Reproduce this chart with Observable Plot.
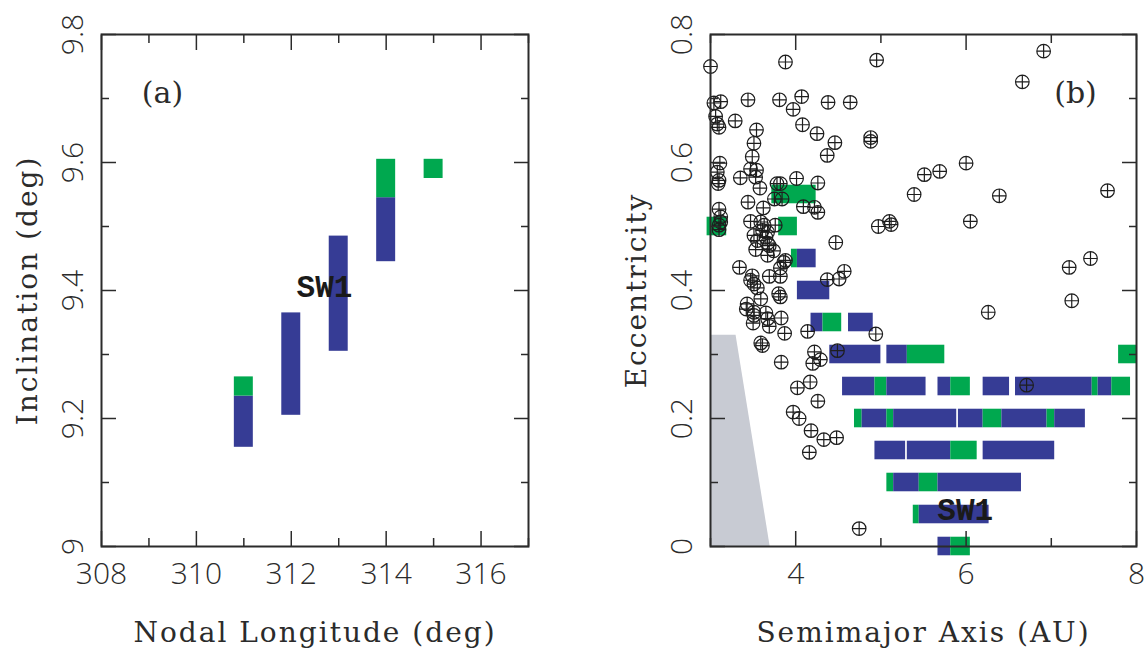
<!DOCTYPE html>
<html><head><meta charset="utf-8">
<script src="https://cdn.jsdelivr.net/npm/d3@7"></script>
<script src="https://cdn.jsdelivr.net/npm/@observablehq/plot@0.6"></script>
<style>
html,body{margin:0;padding:0;background:#fff;}
#wrap{display:flex;width:1146px;height:649px;overflow:hidden;}
#wrap svg{overflow:visible;}
</style></head><body><div id="wrap"></div>
<script>
// ---------- Panel (a): nodal longitude vs inclination ----------
const incLon  = [311, 311, 312, 313, 314, 314, 315];
const incLow  = [9.155, 9.235, 9.205, 9.305, 9.445, 9.545, 9.575];
const incHigh = [9.235, 9.265, 9.365, 9.485, 9.545, 9.605, 9.605];
const incKind = ["A", "B", "A", "A", "A", "B", "B"];
const lonTicksMajor = [308, 310, 312, 314, 316];
const lonTicksMinor = [309, 311, 313, 315, 317];
const incTicksMajor = [9, 9.2, 9.4, 9.6, 9.8];
const incTicksMinor = [9.1, 9.3, 9.5, 9.7];
const labelA = [{x: 312.7, y: 9.405, t: "SW1"}];

// ---------- Panel (b): semimajor axis vs eccentricity ----------
const segA1 = [3.72, 2.96,3.80, 3.95,4.02, 4.02, 4.18,4.32,4.62,
  4.40,5.07,5.31,7.79,
  4.55,4.93,5.07,5.67,5.82,6.20,6.58,7.48,7.55,7.71,
  4.69,4.78,5.07,5.15,5.91,6.20,6.42,6.95,7.04,
  4.93,5.31,5.82,6.20,
  5.07,5.15,5.45,5.67,
  5.38,5.45,
  5.67,5.82];
const segA2 = [4.24, 3.19,4.02, 4.02,4.24, 4.40, 4.32,4.54,4.91,
  5.00,5.31,5.75,8.00,
  4.93,5.07,5.53,5.82,6.05,6.51,7.48,7.55,7.71,7.93,
  4.78,5.07,5.15,5.89,6.20,6.42,6.95,7.04,7.40,
  5.29,5.82,6.13,7.04,
  5.15,5.45,5.67,6.65,
  5.45,6.27,
  5.82,6.05];
const segE = [0.55, 0.50,0.50, 0.45,0.45, 0.40, 0.35,0.35,0.35,
  0.30,0.30,0.30,0.30,
  0.25,0.25,0.25,0.25,0.25,0.25,0.25,0.25,0.25,0.25,
  0.20,0.20,0.20,0.20,0.20,0.20,0.20,0.20,0.20,
  0.15,0.15,0.15,0.15,
  0.10,0.10,0.10,0.10,
  0.05,0.05,
  0.00,0.00];
const segKind = ["B", "B","B", "B","A", "A", "A","B","A",
  "A","A","B","B",
  "A","B","A","A","B","A","A","B","A","B",
  "B","A","B","A","A","B","A","B","A",
  "A","A","B","A",
  "B","A","B","A",
  "B","A",
  "A","B"];
const cometA = [3.00,3.88,4.95,3.04,3.12,3.44,3.81,4.07,3.97,4.38,4.64,3.06,3.08,3.10,3.29,4.08,3.54,4.25,3.51,4.46,
  4.88,4.88,4.37,3.49,3.11,3.08,3.10,3.09,3.47,3.54,3.53,3.35,3.58,4.01,4.26,3.78,3.82,3.75,3.84,3.44,
  3.62,4.09,4.22,4.26,3.10,3.12,3.12,3.10,3.47,3.59,3.63,3.76,4.97,5.10,5.12,3.10,3.61,3.67,3.51,3.65,
  3.55,3.67,3.69,3.53,3.74,3.67,3.86,3.88,3.34,3.82,3.69,3.82,3.49,3.47,3.51,3.55,4.47,4.37,4.51,4.57,
  3.59,3.80,3.82,3.43,3.42,3.51,3.51,3.50,3.65,3.69,3.67,3.83,3.87,4.14,4.94,3.59,3.61,4.49,4.22,4.20,
  4.29,3.83,4.17,4.02,4.26,3.97,4.04,4.18,4.33,4.48,4.16,4.745,6.71,6.91,6.66,6.00,5.69,5.51,5.39,6.39,
  7.66,6.05,7.21,7.46,7.24,6.26];
const cometE = [0.750,0.757,0.760,0.693,0.695,0.698,0.698,0.703,0.683,0.694,0.694,0.672,0.660,0.655,0.665,0.659,0.651,0.645,0.630,0.631,
  0.639,0.633,0.611,0.609,0.599,0.585,0.572,0.567,0.590,0.588,0.577,0.576,0.560,0.575,0.568,0.567,0.567,0.543,0.543,0.538,
  0.529,0.531,0.530,0.522,0.527,0.515,0.507,0.502,0.508,0.507,0.502,0.502,0.500,0.508,0.503,0.495,0.494,0.491,0.486,0.483,
  0.478,0.474,0.470,0.464,0.462,0.455,0.444,0.447,0.436,0.435,0.422,0.422,0.423,0.416,0.410,0.404,0.475,0.417,0.418,0.430,
  0.387,0.395,0.390,0.379,0.371,0.366,0.361,0.349,0.365,0.344,0.356,0.357,0.333,0.336,0.332,0.318,0.314,0.306,0.304,0.286,
  0.292,0.288,0.257,0.248,0.227,0.210,0.200,0.181,0.167,0.170,0.147,0.028,0.252,0.774,0.726,0.599,0.586,0.581,0.550,0.548,
  0.556,0.508,0.436,0.450,0.384,0.366];
const greyA = [3.0, 3.3, 3.7];
const greyE = [0.33, 0.33, 0.0];
const smaTicksMajor = [4, 6, 8];
const smaTicksMinor = [3, 5, 7];
const eccTicksMajor = [0, 0.2, 0.4, 0.6, 0.8];
const eccTicksMinor = [0.1, 0.3, 0.5, 0.7];
const labelB = [{x: 5.99, y: 0.057, t: "SW1"}];
const titleTexts = ["Nodal Longitude (deg)", "Inclination (deg)", "Semimajor Axis (AU)", "Eccentricity"];

// ---------- styling ----------
const BLUE = "#363c95", GREEN = "#00a84f", GREY = "#c8cbd3", INK = "#2b2b2b";
const TICKFONT = "Open Sans", SERIF = "DejaVu Serif", MONO = "Liberation Mono";
const colorScale = {domain: ["A", "B"], range: [BLUE, GREEN]};

function frameAxes(xMaj, xMin, yMaj, yMin, xFmt, yFmt) {
  const tk = {color: INK, strokeWidth: 1.5, label: null, tickFormat: () => ""};
  return [
    Plot.axisX({...tk, anchor: "bottom", ticks: xMaj, tickSize: -15}),
    Plot.axisX({...tk, anchor: "bottom", ticks: xMin, tickSize: -8}),
    Plot.axisX({...tk, anchor: "top", ticks: xMaj, tickSize: -15}),
    Plot.axisX({...tk, anchor: "top", ticks: xMin, tickSize: -8}),
    Plot.axisY({...tk, anchor: "left", ticks: yMaj, tickSize: -15}),
    Plot.axisY({...tk, anchor: "left", ticks: yMin, tickSize: -8}),
    Plot.axisY({...tk, anchor: "right", ticks: yMaj, tickSize: -15}),
    Plot.axisY({...tk, anchor: "right", ticks: yMin, tickSize: -8}),
    Plot.axisX({anchor: "bottom", ticks: xMaj, tickSize: 0, tickPadding: 16, tickFormat: xFmt,
      fontSize: 30, fontFamily: TICKFONT, fontWeight: 300, fill: INK, label: null}),
    Plot.axisY({anchor: "left", ticks: yMaj, tickSize: 0, tickPadding: 19, tickRotate: -90, tickFormat: yFmt,
      fontSize: 30, fontFamily: TICKFONT, fontWeight: 300, fill: INK, label: null}),
    Plot.frame({stroke: INK, strokeWidth: 2})
  ];
}
function titles(xTitle, yTitle, panel, panelAnchor, panelDx) {
  const t = {fontFamily: SERIF, fill: INK, textAnchor: "middle", lineAnchor: "middle"};
  return [
    Plot.text([xTitle], {...t, frameAnchor: "bottom", dy: 87, fontSize: 28}),
    Plot.text([yTitle], {...t, frameAnchor: "left", dx: -73, rotate: -90, fontSize: 28}),
    Plot.text([panel], {...t, frameAnchor: panelAnchor, dx: panelDx, dy: 59, fontSize: 30})
  ];
}

const circlePlus = {
  draw(ctx, size) {
    const r = Math.sqrt(size / Math.PI);
    ctx.moveTo(r, 0); ctx.arc(0, 0, r, 0, 2 * Math.PI);
    ctx.moveTo(-r, 0); ctx.lineTo(r, 0);
    ctx.moveTo(0, -r); ctx.lineTo(0, r);
  }
};

const plotA = Plot.plot({
  width: 573, height: 649,
  marginLeft: 101, marginRight: 45, marginTop: 34, marginBottom: 103,
  x: {domain: [308, 317]},
  y: {domain: [9, 9.8]},
  color: colorScale,
  style: {background: "white", overflow: "visible"},
  marks: [
    Plot.rect(incLon, {x1: incLon.map(v => v - 0.2), x2: incLon.map(v => v + 0.2), y1: incLow, y2: incHigh, fill: incKind}),
    Plot.text(labelA, {x: "x", y: "y", text: "t", fontFamily: MONO, fontWeight: "bold", fontSize: 31, fill: "#1a1a1a"}),
    ...frameAxes(lonTicksMajor, lonTicksMinor, incTicksMajor, incTicksMinor, d => String(d), d => d === 9 ? "9" : d.toFixed(1)),
    ...titles("Nodal Longitude (deg)", "Inclination (deg)", "(a)", "top-left", 61)
  ]
});

const plotB = Plot.plot({
  width: 573, height: 649,
  marginLeft: 137, marginRight: 10, marginTop: 34, marginBottom: 103,
  x: {domain: [3, 8]},
  y: {domain: [0, 0.8]},
  color: colorScale,
  style: {background: "white", overflow: "visible"},
  marks: [
    Plot.areaY(greyA, {x: greyA, y: greyE, fill: GREY}),
    Plot.rect(segE, {x1: segA1, x2: segA2, y1: segE.map(v => v - 0.0145), y2: segE.map(v => v + 0.0145), fill: segKind}),
    Plot.dot(cometA, {x: cometA, y: cometE, symbol: circlePlus, r: 6.8, stroke: "#1e1e1e", strokeWidth: 1.2, fill: "none"}),
    Plot.text(labelB, {x: "x", y: "y", text: "t", fontFamily: MONO, fontWeight: "bold", fontSize: 31, fill: "#1a1a1a"}),
    ...frameAxes(smaTicksMajor, smaTicksMinor, eccTicksMajor, eccTicksMinor, d => String(d), d => d === 0 ? "0" : d.toFixed(1)),
    ...titles("Semimajor Axis (AU)", "Eccentricity", "(b)", "top-right", -61)
  ]
});

for (const p of [plotA, plotB]) {
  d3.select(p).selectAll("text")
    .filter(function() { return titleTexts.includes(this.textContent); })
    .attr("letter-spacing", "2px");
  document.getElementById("wrap").appendChild(p);
}
</script></body></html>
